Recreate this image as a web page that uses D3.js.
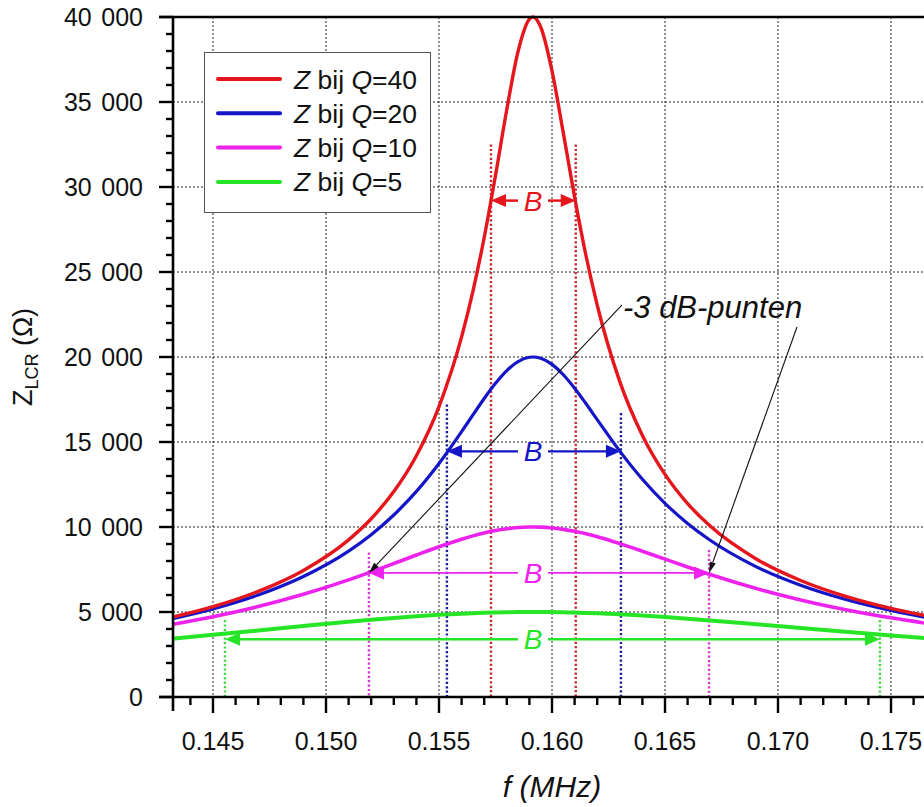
<!DOCTYPE html>
<html>
<head>
<meta charset="utf-8">
<script src="https://cdn.jsdelivr.net/npm/d3@7"></script>
<style>
  body { margin: 0; background: #fff; }
  svg { display: block; }
  text { font-family: Arial, "Liberation Sans", sans-serif; }
</style>
</head>
<body>
<svg id="chart" width="924" height="807"></svg>
<script>
// ---------------- data ----------------
const freq = [0.143, 0.145, 0.147, 0.149, 0.151, 0.152, 0.153, 0.154, 0.155, 0.156, 0.1565, 0.157, 0.1575, 0.158, 0.1585, 0.159, 0.15916, 0.1595, 0.160, 0.1605, 0.161, 0.1615, 0.162, 0.163, 0.164, 0.165, 0.166, 0.167, 0.169, 0.171, 0.173, 0.175, 0.177];
const zQ40 = [4631, 5313, 6211, 7446, 9245, 10486, 12082, 14195, 17087, 21183, 23857, 27032, 30684, 34561, 37986, 39879, 40000, 39413, 36832, 33181, 29406, 25986, 23059, 18554, 15388, 13096, 11380, 10054, 8151, 6856, 5921, 5215, 4664];
const zQ20 = [4541, 5178, 5998, 7086, 8582, 9548, 10706, 12093, 13736, 15610, 16593, 17559, 18452, 19202, 19733, 19985, 20000, 19925, 19566, 18955, 18162, 17262, 16317, 14464, 12806, 11392, 10208, 9218, 7686, 6573, 5736, 5087, 4572];
const zQ10 = [4226, 4724, 5322, 6040, 6888, 7358, 7850, 8351, 8839, 9283, 9478, 9648, 9788, 9896, 9966, 9998, 10000, 9991, 9944, 9861, 9745, 9598, 9426, 9024, 8576, 8110, 7648, 7204, 6398, 5712, 5137, 4656, 4251];
const zQ5  = [3410, 3656, 3913, 4173, 4425, 4542, 4651, 4749, 4834, 4903, 4931, 4954, 4973, 4987, 4996, 5000, 5000, 4999, 4993, 4982, 4967, 4947, 4923, 4863, 4789, 4703, 4608, 4505, 4286, 4061, 3838, 3624, 3423];
const qValues = [40, 20, 10, 5];

// bandwidth (-3 dB) markers, one per series (frequency in MHz, impedance in ohm)
const bwLeft      = [0.1573, 0.15535, 0.1519, 0.14553];
const bwRight     = [0.16105, 0.16305, 0.16695, 0.17451];
const bwArrowZ    = [29200, 14450, 7300, 3400];
const bwTopLeft   = [32500, 17200, 8500, 4530];
const bwTopRight  = [32500, 16700, 8650, 4530];
const bwLabelF    = 0.15916;

// annotation "-3 dB-punten"
const annoText = "-3 dB-punten";
const annoTextAt = [0.16314, 22294];
const annoFrom = [[0.1631, 23059], [0.17084, 21765]];
const annoTo   = [[0.1519, 7300], [0.16695, 7300]];

const xTicksMajor = [0.145, 0.150, 0.155, 0.160, 0.165, 0.170, 0.175];
const xTicksMinor = d3.range(144, 177).map(v => v / 1000);
const yTicksMajor = [0, 5000, 10000, 15000, 20000, 25000, 30000, 35000, 40000];
const yTicksMinor = d3.range(0, 41).map(v => v * 1000);
const xDomain = [0.14323, 0.17677];
const yDomain = [0, 40000];

// ---------------- styles ----------------
const colors    = ["#e5161c", "#1515c8", "#ee22ee", "#26e526"];
const dotColors = ["#c42a2e", "#1d1d98", "#d63ad6", "#42d842"];
const widths    = [3.4, 3.2, 3.6, 4];
const arrowW    = [2.5, 2.2, 1.8, 2.4];

// ---------------- chart ----------------
const svg = d3.select("#chart");
const L = 173, R = 931, T = 17, B = 697;
const x = d3.scaleLinear().domain(xDomain).range([L, R]);
const y = d3.scaleLinear().domain(yDomain).range([B, T]);

svg.append("defs").append("clipPath").attr("id", "plotclip")
  .append("rect").attr("x", L).attr("y", T - 3).attr("width", R - L).attr("height", B - T + 3);

// grid
const grid = svg.append("g").attr("stroke", "#222").attr("stroke-width", 1).attr("stroke-dasharray", "2,2");
xTicksMajor.forEach(t => grid.append("line").attr("x1", x(t)).attr("x2", x(t)).attr("y1", T).attr("y2", B));
yTicksMajor.filter(t => t > 0 && t < 40000).forEach(t => grid.append("line").attr("x1", L).attr("x2", R).attr("y1", y(t)).attr("y2", y(t)));

const plot = svg.append("g").attr("clip-path", "url(#plotclip)");
const series = [zQ40, zQ20, zQ10, zQ5];

// dotted -3 dB verticals
series.forEach((s, i) => {
  [[bwLeft[i], bwTopLeft[i]], [bwRight[i], bwTopRight[i]]].forEach(([f, top]) => {
    plot.append("line").attr("x1", x(f)).attr("x2", x(f)).attr("y1", y(top)).attr("y2", B)
      .attr("stroke", dotColors[i]).attr("stroke-width", 2.4).attr("stroke-dasharray", "2.2,2.2");
  });
});

// curves
const line = d3.line().x((d, k) => x(freq[k])).y(d => y(d)).curve(d3.curveMonotoneX);
series.slice().reverse().forEach((s, ri) => {
  const i = series.length - 1 - ri;
  plot.append("path").attr("d", line(s)).attr("fill", "none")
    .attr("stroke", colors[i]).attr("stroke-width", widths[i]).attr("stroke-linejoin", "round");
});

// bandwidth arrows with "B"
function head(g, tipX, tipY, dir, len, hw, color) {
  g.append("path")
    .attr("d", `M${tipX},${tipY} L${tipX - dir * len},${tipY - hw} L${tipX - dir * len},${tipY + hw} Z`)
    .attr("fill", color);
}
series.forEach((s, i) => {
  const g = plot.append("g");
  const yy = y(bwArrowZ[i]);
  const x1 = x(bwLeft[i]), x2 = x(bwRight[i]), xc = x(bwLabelF);
  const gap = 15;
  g.append("line").attr("x1", x1 + 6).attr("x2", xc - gap).attr("y1", yy).attr("y2", yy)
    .attr("stroke", colors[i]).attr("stroke-width", arrowW[i]);
  g.append("line").attr("x1", xc + gap).attr("x2", x2 - 6).attr("y1", yy).attr("y2", yy)
    .attr("stroke", colors[i]).attr("stroke-width", arrowW[i]);
  head(g, x1, yy, -1, 15, 6.5, colors[i]);
  head(g, x2, yy, 1, 15, 6.5, colors[i]);
  g.append("text").attr("x", xc).attr("y", yy + 10).attr("text-anchor", "middle")
    .attr("font-size", 28).attr("font-style", "italic").attr("fill", colors[i]).text("B");
});

// annotation
const ag = svg.append("g");
annoFrom.forEach((p, k) => {
  const xa = x(p[0]), ya = y(p[1]), xb = x(annoTo[k][0]), yb = y(annoTo[k][1]);
  const ang = Math.atan2(yb - ya, xb - xa);
  const len = 11, hw = 3.2;
  const bx = xb - len * Math.cos(ang), by = yb - len * Math.sin(ang);
  ag.append("line").attr("x1", xa).attr("y1", ya).attr("x2", bx).attr("y2", by)
    .attr("stroke", "#111").attr("stroke-width", 1.1);
  ag.append("path")
    .attr("d", `M${xb},${yb} L${bx + hw * Math.sin(ang)},${by - hw * Math.cos(ang)} L${bx - hw * Math.sin(ang)},${by + hw * Math.cos(ang)} Z`)
    .attr("fill", "#111");
});
ag.append("text").attr("x", x(annoTextAt[0])).attr("y", y(annoTextAt[1]))
  .attr("font-size", 31).attr("font-style", "italic").attr("fill", "#111").text(annoText);

// legend
const lg = svg.append("g");
lg.append("rect").attr("x", 204.5).attr("y", 52.5).attr("width", 226).attr("height", 160)
  .attr("fill", "#fff").attr("stroke", "#555").attr("stroke-width", 1);
qValues.forEach((q, i) => {
  const ly = 79 + i * 34.3;
  lg.append("line").attr("x1", 218).attr("x2", 280).attr("y1", ly).attr("y2", ly)
    .attr("stroke", colors[i]).attr("stroke-width", 4).attr("stroke-linecap", "round");
  const t = lg.append("text").attr("x", 294).attr("y", ly + 9.5).attr("font-size", 26.5).attr("fill", "#111");
  t.append("tspan").attr("font-style", "italic").text("Z");
  t.append("tspan").text(" bij ");
  t.append("tspan").attr("font-style", "italic").text("Q");
  t.append("tspan").text("=" + q);
});

// axes
const ax = svg.append("g").attr("stroke", "#000");
ax.append("line").attr("x1", L - 14).attr("x2", R).attr("y1", B).attr("y2", B).attr("stroke-width", 2.6);
ax.append("line").attr("x1", L).attr("x2", L).attr("y1", T).attr("y2", B + 14).attr("stroke-width", 2.6);
ax.append("line").attr("x1", L - 14).attr("x2", R).attr("y1", T).attr("y2", T).attr("stroke-width", 2.4);
ax.append("line").attr("x1", R).attr("x2", R).attr("y1", T).attr("y2", B).attr("stroke-width", 2.4);

xTicksMinor.forEach(t => {
  const major = xTicksMajor.some(m => Math.abs(m - t) < 1e-9);
  ax.append("line").attr("x1", x(t)).attr("x2", x(t)).attr("y1", B).attr("y2", B + (major ? 16 : 8)).attr("stroke-width", 2.4);
});
yTicksMinor.forEach(t => {
  const major = yTicksMajor.includes(t);
  ax.append("line").attr("x1", L).attr("x2", L - (major ? 14 : 7)).attr("y1", y(t)).attr("y2", y(t)).attr("stroke-width", 2.4);
});

// y tick labels: thousands separated by a wide space
yTicksMajor.forEach(t => {
  const txt = svg.append("text").attr("x", 143).attr("y", y(t) + 9).attr("text-anchor", "end")
    .attr("font-size", 25).attr("fill", "#111");
  if (t >= 1000) {
    txt.append("tspan").text(String(Math.floor(t / 1000)));
    txt.append("tspan").attr("dx", 9.5).text(d3.format("03d")(t % 1000));
  } else {
    txt.text(String(t));
  }
});
xTicksMajor.forEach(t => {
  svg.append("text").attr("x", x(t)).attr("y", 750).attr("text-anchor", "middle")
    .attr("font-size", 25).attr("fill", "#111").text(d3.format(".3f")(t));
});

// axis titles
svg.append("text").attr("x", (L + R) / 2).attr("y", 797).attr("text-anchor", "middle")
  .attr("font-size", 30).attr("font-style", "italic").attr("fill", "#111").text("f (MHz)");

const yt = svg.append("text").attr("transform", `translate(32, ${(T + B) / 2}) rotate(-90)`)
  .attr("text-anchor", "middle").attr("font-size", 27).attr("fill", "#111");
yt.append("tspan").text("Z");
yt.append("tspan").attr("font-size", 18).attr("dy", 6).text("LCR");
yt.append("tspan").attr("dy", -6).text(" (Ω)");
</script>
</body>
</html>
